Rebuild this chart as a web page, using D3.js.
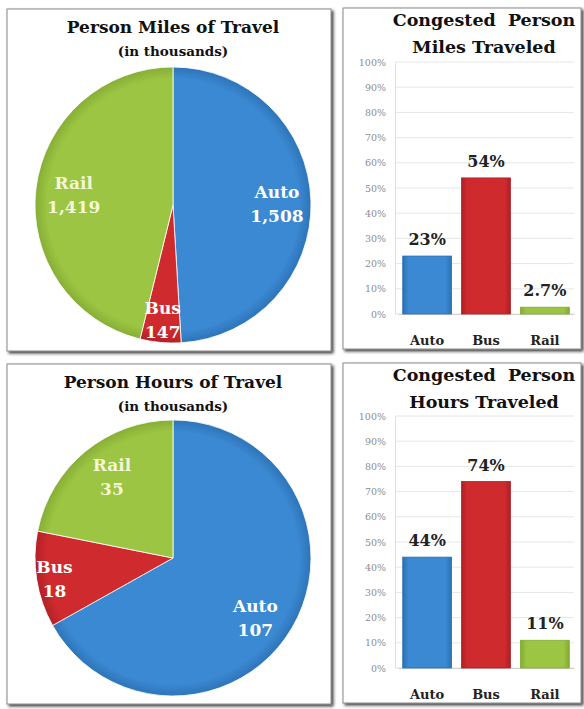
<!DOCTYPE html>
<html>
<head>
<meta charset="utf-8">
<script src="https://cdn.jsdelivr.net/npm/d3@7/dist/d3.min.js"></script>
<style>
  html, body { margin: 0; padding: 0; background: #fff; }
  svg { display: block; font-family: "DejaVu Serif", serif; }
  text.title { white-space: pre; }
</style>
</head>
<body>
<div id="chart"></div>
<script>
// ---------- Data ----------
const modes = ["Auto", "Bus", "Rail"];
const milesOfTravel = [1508, 147, 1419];     // thousands
const hoursOfTravel = [107, 18, 35];         // thousands
const congestedMiles = [23, 54, 2.7];        // percent
const congestedHours = [44, 74, 11];         // percent
const percentTicks = [0, 10, 20, 30, 40, 50, 60, 70, 80, 90, 100];

const colors = { Auto: "#3a89d2", Bus: "#cf2a2e", Rail: "#9cc543" };
const darker = { Auto: "#2c70b4", Bus: "#ac2025", Rail: "#82aa33" };
const labelFill = { Auto: "#ffffff", Bus: "#ffffff", Rail: "#f3f7d6" };

const width = 584, height = 709;

const svg = d3.select("#chart").append("svg")
  .attr("width", width)
  .attr("height", height);

const defs = svg.append("defs");

const shadow = defs.append("filter").attr("id", "shadow")
  .attr("x", "-5%").attr("y", "-5%").attr("width", "115%").attr("height", "115%");
shadow.append("feDropShadow")
  .attr("dx", 2).attr("dy", 2).attr("stdDeviation", 1.6)
  .attr("flood-color", "#222").attr("flood-opacity", 0.85);

modes.forEach(m => {
  const rg = defs.append("radialGradient").attr("id", "pie-" + m)
    .attr("gradientUnits", "userSpaceOnUse").attr("r", 140).attr("cx", 0).attr("cy", 0);
  rg.append("stop").attr("offset", "0%").attr("stop-color", colors[m]);
  rg.append("stop").attr("offset", "90%").attr("stop-color", colors[m]);
  rg.append("stop").attr("offset", "100%").attr("stop-color", darker[m]);

  const lg = defs.append("linearGradient").attr("id", "bar-" + m)
    .attr("x1", 0).attr("x2", 1).attr("y1", 0).attr("y2", 0);
  lg.append("stop").attr("offset", "0%").attr("stop-color", darker[m]);
  lg.append("stop").attr("offset", "12%").attr("stop-color", colors[m]);
  lg.append("stop").attr("offset", "88%").attr("stop-color", colors[m]);
  lg.append("stop").attr("offset", "100%").attr("stop-color", darker[m]);
});

// ---------- Frames ----------
function frame(x, y, w, h) {
  svg.append("rect")
    .attr("x", x).attr("y", y).attr("width", w).attr("height", h)
    .attr("fill", "#fff")
    .attr("stroke", "#8a8a8a")
    .attr("filter", "url(#shadow)");
}

// ---------- Pie ----------
function renderPie(cfg) {
  const { box, title, subtitle, values, cx, cy, r, labelR, labelShift } = cfg;
  frame(...box);

  const g = svg.append("g");
  g.append("text").attr("class", "title")
    .attr("x", cx).attr("y", box[1] + 24)
    .attr("text-anchor", "middle")
    .attr("font-weight", "bold").attr("font-size", 17).attr("fill", "#111")
    .text(title);
  g.append("text")
    .attr("x", cx).attr("y", box[1] + 47)
    .attr("text-anchor", "middle")
    .attr("font-weight", "bold").attr("font-size", 13.5).attr("fill", "#111")
    .text(subtitle);

  const data = modes.map((m, i) => ({ mode: m, value: values[i], labelR: labelR[i], shift: labelShift[i] }));
  const arcs = d3.pie().sort(null).value(d => d.value)(data);
  const arc = d3.arc().innerRadius(0).outerRadius(r);

  const pg = g.append("g").attr("transform", `translate(${cx},${cy})`);
  pg.selectAll("path")
    .data(arcs)
    .join("path")
    .attr("d", arc)
    .attr("fill", d => `url(#pie-${d.data.mode})`)
    .attr("stroke", "#fff")
    .attr("stroke-width", 0.8);

  const fmt = d3.format(",");
  const lab = pg.selectAll("g.lab")
    .data(arcs)
    .join("g").attr("class", "lab")
    .attr("transform", d => {
      const a = (d.startAngle + d.endAngle) / 2 + d.data.shift * Math.PI / 180;
      const x = Math.sin(a) * d.data.labelR, y = -Math.cos(a) * d.data.labelR;
      return `translate(${x},${y})`;
    });
  lab.append("text")
    .attr("y", -4)
    .attr("text-anchor", "middle")
    .attr("font-weight", "bold").attr("font-size", 17)
    .attr("fill", d => labelFill[d.data.mode])
    .text(d => d.data.mode);
  lab.append("text")
    .attr("y", 20)
    .attr("text-anchor", "middle")
    .attr("font-weight", "bold").attr("font-size", 17)
    .attr("fill", d => labelFill[d.data.mode])
    .text(d => fmt(d.data.value));
}

// ---------- Bars ----------
function renderBars(cfg) {
  const { box, titleLines, values, top, bottom } = cfg;
  frame(...box);
  const cx = 484;

  const g = svg.append("g");
  titleLines.forEach((t, i) => {
    g.append("text").attr("class", "title")
      .attr("x", cx).attr("y", box[1] + 18 + i * 27)
      .attr("text-anchor", "middle")
      .attr("font-weight", "bold").attr("font-size", 17.5).attr("fill", "#111")
      .text(t);
  });

  const x = d3.scaleBand().domain(modes).range([398, 574]).paddingInner(0.17).paddingOuter(0.08);
  const y = d3.scaleLinear().domain([0, 100]).range([bottom, top]);

  // grid
  g.append("g").selectAll("line")
    .data(percentTicks)
    .join("line")
    .attr("x1", 395).attr("x2", 574)
    .attr("y1", d => y(d)).attr("y2", d => y(d))
    .attr("stroke", "#e6e6e6").attr("stroke-width", 1);

  const ya = g.append("g")
    .attr("transform", "translate(395,0)")
    .call(d3.axisLeft(y).tickValues(percentTicks).tickFormat(d => d + "%").tickSize(0).tickPadding(9));
  ya.select(".domain").attr("stroke", "#e0e0e0");
  ya.selectAll("text")
    .attr("font-family", "DejaVu Serif, serif")
    .attr("font-size", 9.5).attr("fill", "#8c8c8c");

  const xa = g.append("g")
    .attr("transform", `translate(0,${bottom})`)
    .call(d3.axisBottom(x).tickSize(0).tickPadding(22));
  xa.select(".domain").attr("stroke", "#d0d0d0");
  xa.selectAll("text")
    .attr("font-family", "DejaVu Serif, serif")
    .attr("font-weight", "bold").attr("font-size", 13).attr("fill", "#222");

  const data = modes.map((m, i) => ({ mode: m, value: values[i] }));
  g.append("g").selectAll("rect")
    .data(data)
    .join("rect")
    .attr("x", d => x(d.mode))
    .attr("width", x.bandwidth())
    .attr("y", d => y(d.value))
    .attr("height", d => y(0) - y(d.value))
    .attr("fill", d => `url(#bar-${d.mode})`)
    .attr("stroke", d => darker[d.mode]).attr("stroke-width", 0.8);

  g.append("g").selectAll("text")
    .data(data)
    .join("text")
    .attr("x", d => x(d.mode) + x.bandwidth() / 2)
    .attr("y", d => y(d.value) - 11)
    .attr("text-anchor", "middle")
    .attr("font-weight", "bold").attr("font-size", 16).attr("fill", "#222")
    .text(d => d.value + "%");
}

// ---------- Render ----------
renderPie({
  box: [7, 9, 324, 342],
  title: "Person Miles of Travel",
  subtitle: "(in thousands)",
  values: milesOfTravel,
  cx: 173, cy: 205, r: 138,
  labelR: [104, 113, 100],
  labelShift: [0, 0, 0]
});

renderPie({
  box: [7, 364, 324, 340],
  title: "Person Hours of Travel",
  subtitle: "(in thousands)",
  values: hoursOfTravel,
  cx: 173, cy: 558, r: 138,
  labelR: [101, 120, 103],
  labelShift: [5, 0, 3]
});

renderBars({
  box: [343, 8, 238, 341],
  titleLines: ["Congested  Person", "Miles Traveled"],
  values: congestedMiles,
  top: 62, bottom: 314
});

renderBars({
  box: [343, 363, 238, 340],
  titleLines: ["Congested  Person", "Hours Traveled"],
  values: congestedHours,
  top: 416, bottom: 668
});
</script>
</body>
</html>
